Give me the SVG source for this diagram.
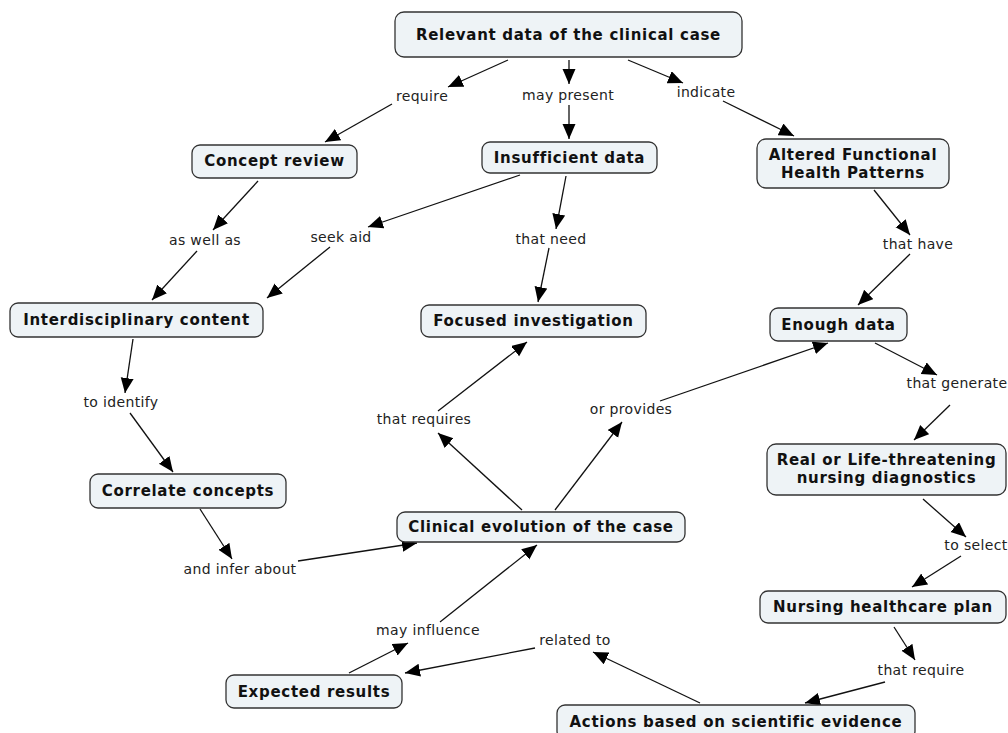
<svg xmlns="http://www.w3.org/2000/svg" width="1008" height="733" viewBox="0 0 1008 733">
<style>
.box{fill:#eef3f6;stroke:#333;stroke-width:1.3}
.nt{font-family:"DejaVu Sans","Liberation Sans",sans-serif;font-weight:bold;font-size:15px;letter-spacing:0.7px;fill:#111;text-anchor:middle}
.lb{font-family:"DejaVu Sans","Liberation Sans",sans-serif;font-size:14px;letter-spacing:0.35px;fill:#222;text-anchor:middle}
.ln{stroke:#111;stroke-width:1.3;fill:none;marker-end:url(#ah)}
</style>
<defs>
<marker id="ah" markerUnits="userSpaceOnUse" markerWidth="16" markerHeight="14" refX="15" refY="6.5" orient="auto">
<path d="M0,0 L15,6.5 L0,13 z" fill="#000"/>
</marker>
</defs>
<rect width="1008" height="733" fill="#fff"/>
<g id="connectors">
<line class="ln" x1="508" y1="60" x2="448" y2="87"/>
<line class="ln" x1="392" y1="104" x2="325" y2="142"/>
<line class="ln" x1="569" y1="60" x2="569" y2="84"/>
<line class="ln" x1="569" y1="105" x2="569" y2="139"/>
<line class="ln" x1="628" y1="60" x2="683" y2="83"/>
<line class="ln" x1="723" y1="101" x2="794" y2="136"/>
<line class="ln" x1="258" y1="181" x2="213" y2="230"/>
<line class="ln" x1="197" y1="251" x2="152" y2="300"/>
<line class="ln" x1="520" y1="175" x2="368" y2="227"/>
<line class="ln" x1="330" y1="247" x2="267" y2="298"/>
<line class="ln" x1="566" y1="176" x2="556" y2="229"/>
<line class="ln" x1="549" y1="248" x2="538" y2="302"/>
<line class="ln" x1="874" y1="190" x2="910" y2="235"/>
<line class="ln" x1="910" y1="254" x2="858" y2="305"/>
<line class="ln" x1="133" y1="339" x2="125" y2="393"/>
<line class="ln" x1="130" y1="413" x2="173" y2="472"/>
<line class="ln" x1="200" y1="509" x2="232" y2="559"/>
<line class="ln" x1="298" y1="561" x2="417" y2="543"/>
<line class="ln" x1="522" y1="510" x2="438" y2="433"/>
<line class="ln" x1="438" y1="411" x2="527" y2="342"/>
<line class="ln" x1="555" y1="510" x2="622" y2="422"/>
<line class="ln" x1="660" y1="401" x2="828" y2="343"/>
<line class="ln" x1="875" y1="343" x2="937" y2="375"/>
<line class="ln" x1="950" y1="405" x2="914" y2="440"/>
<line class="ln" x1="923" y1="499" x2="966" y2="537"/>
<line class="ln" x1="961" y1="556" x2="912" y2="587"/>
<line class="ln" x1="894" y1="627" x2="915" y2="660"/>
<line class="ln" x1="885" y1="682" x2="805" y2="703"/>
<line class="ln" x1="700" y1="703" x2="593" y2="652"/>
<line class="ln" x1="535" y1="648" x2="405" y2="673"/>
<line class="ln" x1="349" y1="673" x2="408" y2="643"/>
<line class="ln" x1="440" y1="622" x2="537" y2="545"/>
</g>
<g id="labels">
<text class="lb" x="422" y="101">require</text>
<text class="lb" x="568" y="100">may present</text>
<text class="lb" x="706" y="97">indicate</text>
<text class="lb" x="205" y="245">as well as</text>
<text class="lb" x="341" y="242">seek aid</text>
<text class="lb" x="551" y="244">that need</text>
<text class="lb" x="918" y="249">that have</text>
<text class="lb" x="121" y="407">to identify</text>
<text class="lb" x="424" y="424">that requires</text>
<text class="lb" x="631" y="414">or provides</text>
<text class="lb" x="957" y="388">that generate</text>
<text class="lb" x="976" y="550">to select</text>
<text class="lb" x="921" y="675">that require</text>
<text class="lb" x="575" y="645">related to</text>
<text class="lb" x="428" y="635">may influence</text>
<text class="lb" x="240" y="574">and infer about</text>
</g>
<g id="n-relevant"><rect class="box" x="395" y="12" width="347" height="45" rx="9"/><text class="nt" x="568.5" y="40">Relevant data of the clinical case</text></g>
<g id="n-concept"><rect class="box" x="192" y="145" width="165" height="33" rx="8"/><text class="nt" x="274.5" y="166">Concept review</text></g>
<g id="n-insufficient"><rect class="box" x="482" y="142" width="175" height="31" rx="8"/><text class="nt" x="569.5" y="163">Insufficient data</text></g>
<g id="n-altered"><rect class="box" x="757" y="139" width="192" height="49" rx="9"/><text class="nt" x="853" y="160">Altered Functional</text><text class="nt" x="853" y="178">Health Patterns</text></g>
<g id="n-interdisciplinary"><rect class="box" x="10" y="303" width="253" height="34" rx="8"/><text class="nt" x="136.5" y="325">Interdisciplinary content</text></g>
<g id="n-focused"><rect class="box" x="421" y="305" width="225" height="32" rx="8"/><text class="nt" x="533.5" y="326">Focused investigation</text></g>
<g id="n-enough"><rect class="box" x="770" y="308" width="137" height="33" rx="8"/><text class="nt" x="838.5" y="330">Enough data</text></g>
<g id="n-correlate"><rect class="box" x="90" y="474" width="196" height="34" rx="8"/><text class="nt" x="188" y="496">Correlate concepts</text></g>
<g id="n-clinical"><rect class="box" x="397" y="512" width="288" height="30" rx="8"/><text class="nt" x="541" y="532">Clinical evolution of the case</text></g>
<g id="n-real"><rect class="box" x="767" y="444" width="239" height="51" rx="9"/><text class="nt" x="886.5" y="465">Real or Life-threatening</text><text class="nt" x="886.5" y="483">nursing diagnostics</text></g>
<g id="n-plan"><rect class="box" x="760" y="591" width="246" height="32" rx="8"/><text class="nt" x="883" y="612">Nursing healthcare plan</text></g>
<g id="n-expected"><rect class="box" x="226" y="675" width="176" height="33" rx="8"/><text class="nt" x="314" y="697">Expected results</text></g>
<g id="n-actions"><rect class="box" x="557" y="705" width="358" height="34" rx="8"/><text class="nt" x="736" y="727">Actions based on scientific evidence</text></g>
</svg>
